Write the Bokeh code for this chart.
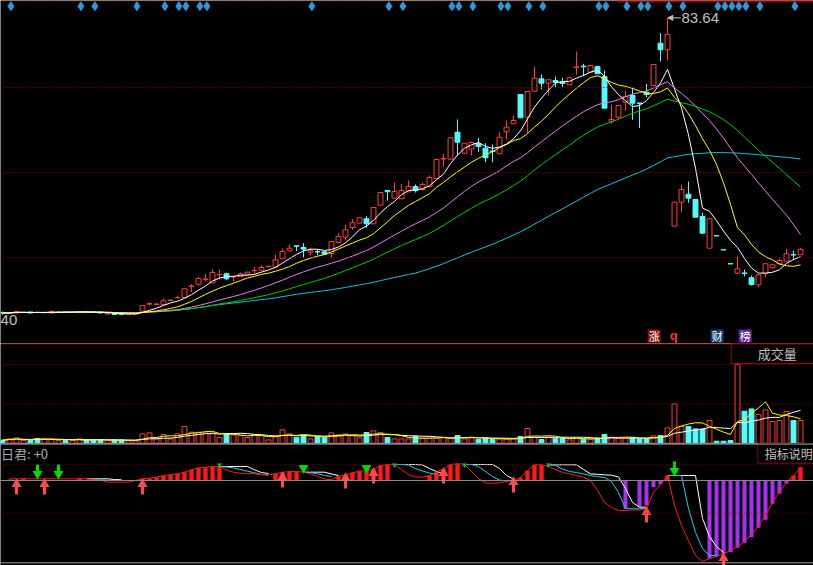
import numpy as np
import pandas as pd
from bokeh.plotting import figure
from bokeh.layouts import column
from bokeh.models import Span, Range1d, Arrow, NormalHead
from bokeh.core.properties import value
from bokeh.embed import file_html
from bokeh.resources import INLINE

# ---------------- data ----------------
opens = [9.97, 9.85, 9.85, 9.97, 10.10, 10.02, 9.90, 9.85, 9.97, 10.10,
         9.97, 9.92, 10.22, 10.22, 10.10, 9.60, 9.72, 9.65, 9.50, 9.60,
         10.30, 12.10, 12.00, 11.97, 13.00, 13.65, 13.72, 16.50, 17.05, 18.25,
         17.39, 19.42, 19.65, 18.85, 18.97, 19.55, 20.42, 20.55, 21.42, 21.30,
         23.40, 25.40, 26.65, 26.22, 25.05, 25.20, 25.15, 24.72, 27.47, 28.80,
         31.22, 32.30, 33.40, 32.15, 36.80, 40.47, 38.55, 38.40, 40.15, 41.47,
         40.72, 41.47, 43.47, 48.35, 48.30, 55.05, 49.80, 50.80, 52.15, 51.05,
         50.35, 49.65, 55.15, 57.15, 64.47, 58.80, 65.30, 68.40, 67.30, 67.97,
         67.60, 66.90, 71.25, 71.55, 70.05, 71.47, 68.97, 57.80, 58.80, 62.55,
         64.22, 62.35, 65.05, 66.72, 77.30, 75.65, 31.55, 37.55, 39.55, 38.22,
         33.97, 26.05, 29.17, 25.67, 22.17, 19.80, 19.85, 18.65, 16.90, 19.65,
         21.15, 22.15, 22.80, 24.45, 24.40]
highs = [10.22, 9.97, 10.35, 10.10, 10.15, 10.10, 10.02, 10.47, 10.35, 10.15,
         10.35, 10.25, 10.40, 10.35, 10.15, 9.80, 9.80, 9.70, 9.60, 9.80,
         11.80, 12.47, 12.30, 13.47, 13.20, 14.22, 15.95, 17.05, 18.97, 19.65,
         20.72, 20.64, 19.90, 18.97, 19.97, 20.15, 21.40, 21.80, 21.80, 24.47,
         25.97, 26.97, 26.80, 27.30, 26.22, 25.72, 25.20, 27.75, 29.80, 31.90,
         33.30, 33.70, 34.05, 36.25, 40.00, 40.55, 42.47, 42.15, 42.97, 41.97,
         42.47, 44.22, 48.47, 49.65, 53.70, 58.22, 52.35, 52.72, 53.65, 52.30,
         51.97, 55.05, 57.97, 59.22, 64.50, 65.25, 71.47, 69.47, 68.20, 68.97,
         68.65, 68.97, 75.22, 72.15, 71.75, 71.50, 70.47, 61.97, 61.75, 65.47,
         66.15, 62.40, 67.15, 72.00, 79.80, 83.64, 37.60, 41.90, 42.72, 38.25,
         34.90, 33.45, 29.20, 25.70, 22.20, 23.97, 20.65, 19.22, 19.45, 22.20,
         21.95, 23.47, 25.90, 25.47, 26.15]
lows = [9.40, 9.72, 9.72, 9.85, 9.80, 9.85, 9.80, 9.80, 9.90, 9.90,
        9.90, 9.85, 9.95, 9.90, 9.80, 9.55, 9.45, 9.42, 9.42, 9.55,
        10.30, 11.72, 11.90, 11.97, 12.90, 13.50, 13.70, 15.05, 16.64, 17.72,
        17.39, 18.22, 18.05, 17.72, 18.97, 19.50, 19.65, 20.50, 21.30, 21.30,
        23.40, 25.35, 25.30, 23.65, 24.30, 24.30, 24.50, 23.55, 27.45, 27.97,
        30.65, 32.25, 31.15, 32.10, 36.75, 37.97, 38.50, 38.35, 40.10, 39.97,
        40.47, 41.22, 43.40, 46.47, 48.25, 49.22, 49.75, 49.22, 50.05, 47.55,
        47.55, 49.60, 53.15, 57.10, 58.60, 54.80, 65.25, 65.80, 64.22, 66.30,
        66.30, 66.85, 69.40, 69.05, 70.00, 69.60, 61.00, 57.15, 58.40, 60.47,
        58.15, 56.10, 63.80, 66.70, 72.72, 72.97, 31.50, 35.05, 37.40, 33.75,
        29.75, 26.00, 29.10, 25.60, 22.10, 19.65, 18.97, 16.72, 16.30, 18.80,
        21.10, 22.10, 22.75, 23.15, 24.35]
closes = [9.85, 9.90, 10.22, 10.02, 9.85, 9.97, 9.95, 10.22, 10.10, 10.05,
          10.10, 10.22, 9.97, 9.97, 9.85, 9.72, 9.47, 9.45, 9.52, 9.72,
          11.72, 12.17, 12.07, 12.89, 13.07, 13.72, 15.90, 16.58, 18.47, 18.32,
          19.97, 19.50, 18.40, 18.92, 19.65, 20.05, 20.50, 21.22, 21.50, 23.15,
          25.22, 26.05, 26.55, 25.80, 25.40, 25.10, 24.55, 27.72, 28.97, 30.65,
          32.40, 33.65, 32.15, 36.22, 39.97, 40.15, 40.22, 40.47, 41.47, 40.47,
          41.97, 43.72, 48.22, 48.45, 53.65, 52.55, 52.30, 52.47, 51.47, 48.65,
          50.22, 53.80, 56.30, 57.97, 58.65, 65.22, 68.55, 67.30, 68.15, 67.47,
          67.22, 68.65, 71.35, 71.40, 71.72, 69.65, 61.05, 58.22, 61.72, 63.97,
          62.30, 62.25, 64.47, 71.97, 75.65, 79.47, 37.55, 40.72, 38.55, 33.80,
          29.80, 33.40, 29.12, 25.62, 22.12, 20.90, 19.72, 16.97, 19.40, 22.15,
          21.90, 22.97, 24.65, 24.35, 25.72]
volumes = [3.0, 4.3, 5.3, 2.7, 3.3, 4.7, 4.3, 4.3, 2.7, 2.7,
           2.7, 4.3, 3.3, 3.3, 3.3, 2.7, 3.3, 3.3, 2.3, 2.3,
           9.3, 10.3, 4.3, 8.7, 4.3, 9.3, 16.7, 11.0, 11.0, 10.3,
           10.3, 5.7, 9.3, 8.3, 7.7, 5.7, 8.3, 8.0, 3.3, 6.7,
           13.3, 9.3, 6.0, 8.0, 4.3, 6.3, 6.0, 10.3, 8.3, 9.3,
           8.0, 5.3, 10.7, 12.3, 10.7, 5.7, 4.3, 4.3, 4.3, 7.0,
           5.0, 5.0, 5.0, 6.0, 5.0, 7.7, 4.3, 6.0, 3.7, 5.0,
           3.7, 4.3, 4.3, 4.3, 6.7, 14.7, 6.0, 3.7, 6.0, 5.0,
           5.3, 3.3, 5.0, 4.0, 4.0, 5.3, 8.7, 6.0, 5.0, 5.0,
           5.3, 4.3, 4.3, 7.3, 7.7, 15.3, 39.3, 16.7, 16.7, 14.3,
           14.3, 22.7, 2.0, 2.0, 2.7, 78.7, 32.0, 34.3, 28.7, 33.3,
           21.7, 22.7, 31.7, 22.7, 22.7]

ind_bar = [0, 1, 0, 2, 0, 0, 0, 0, 0, 0,
           0, 2.3, 0, 0, 0, 0, 0, 0, 0, 0,
           1.7, 2.3, 3.3, 5, 5.7, 6.7, 8.3, 10.7, 12.7, 13.3,
           14, 14.3, 0, 0, 0, 0, 0, 0, 0, 7,
           8, 9, 9, 0, 0, 0, 0, 0, 4.3, 5.5,
           7.7, 9.3, 10, 11, 15, 16, 0, 0, 0, 0,
           0, 5, 8.3, 11.7, 16, 16.7, 0, 0, 0, 0,
           0, 0, 0, 0, 2.7, 10, 15.7, 15.7, 0, 0,
           0, 0, 0, 0, 0, 0, 0, 0, 0, -28.3,
           0, -26.7, -25, -6.7, -4, 5, 0, 0, 0, 0,
           0, -78.3, -76, -73.3, -71.7, -67.3, -62.7, -56.7, -47.3, -39.3,
           -23.3, -13.3, -3.3, 5, 13.3]
ind_white = [None, None, None, None, None, None, None, None, None, None,
             None, None, 1.7, 1.7, 1.7, 1.7, 1.0, 0.7, None, None,
             None, None, None, None, None, None, None, None, None, None,
             None, 14, 14, 14, 14, 14, 10.7, 8, 7, None,
             None, None, None, 8.3, 8.3, 8.3, 8.3, 6.5, 5, None,
             None, None, None, None, None, None, 16, 16, 16, 16,
             15.5, 12, 9, 6.7, None, None, 16, 16, 16, 16,
             16, 12, 5, 1.5, None, None, None, None, 15.7, 15.7,
             15.7, 15.7, 15.7, 11, 6.7, 6.2, 5.7, 5.3, 3.5, -8,
             -22, -26.7, -26.7, None, None, 5, 5, 5, 5, 5,
             -38, -56, -66, -72, None, None, None, None, None, None,
             None, None, None, None, None]
ind_cyan = [None, None, None, None, None, None, None, None, None, None,
            None, None, None, 1.0, 0.5, 0.3, None, None, None, None,
            None, None, None, None, None, None, None, None, None, None,
            None, 14, 13.5, 12.7, 11, 9.3, 7.7, 6, 5.3, None,
            None, None, None, 8.3, 8, 6.7, 5, 4, None, None,
            None, None, None, None, None, None, 16, 16, 15.5, 12,
            9.5, 7.5, 6, None, None, None, 16, 16, 14, 9,
            4, 0.5, -0.5, None, None, None, None, None, 15.7, 15,
            11.5, 9, 8, 6.5, 5, 4, 3, -1, -12, -28,
            -28.3, -28.3, -28, None, None, 5, 5, 5, -28, -52,
            -68, -75, -75, None, None, None, None, None, None, None,
            None, None, None, None, None]
ind_red = [None, 1.7, 1.7, 1.7, 1.7, 1.7, 1.7, 1.7, 1.7, 1.7,
           1.7, 1.7, 1.7, 1.0, 0.3, -1.7, -1.7, -1.7, -1.7, 0,
           1.7, 2.3, 3.3, 5, 5.7, 6.7, 8.3, 10.7, 12.7, 13.3,
           14, 14, 10.7, 8.3, 7.3, 7, 6.7, 6, 5.7, 7,
           8, 9, 9, 8.3, 6.7, 4, 1.5, 0.7, 4.3, 5.5,
           7.7, 9.3, 10, 11, 15, 16, 16, 11, 6, 3.5,
           3.3, 5, 8.3, 11.7, 16, 16.7, 16, 9, 2, -2.5,
           -2.7, -2.5, -1, 0.5, 2.7, 10, 15.7, 15.7, 14, 11,
           8, 6.7, 5, 3.5, 0, -10, -22, -27, -30, -30,
           -29.5, -29.5, -28, -12, -4, 5, -25, -45, -60, -75,
           -81, -78, -76, -73.5, -70, -66, -61, -54, -45, -35,
           -22, -11, -2, 5, 13]

buy_idx = [2, 6, 20, 40, 49, 53, 63, 73, 92, 103]
buy_tip = [1, 1, 1, 8, 7, 12, 12, 3, -27, -73]
sell_idx = [5, 8, 96]
sell_tip = [2, 2, 5]
tri_idx = [43, 52]
tiny_idx = [31, 56, 66, 78]
diamond_idx = [1, 11, 13, 19, 23, 25, 26, 28, 29, 44, 55, 57, 64, 65, 67, 71, 72,
               75, 77, 85, 86, 89, 91, 92, 95, 97, 102, 103, 104, 105, 106, 108, 113]
grid_prices = [66.22, 44.97, 23.72]

# ---------------- styling ----------------
RED = "#ff3c3c"
CYAN = "#54fcfc"
PURPLE = "#a431f0"
DKRED = "#8b0000"
GREY = "#c0c0c0"
W = 813

n = len(closes)
idx = np.arange(n)
o = np.array(opens); h = np.array(highs); l = np.array(lows); c = np.array(closes)
v = np.array(volumes)
up = c >= o

xr = Range1d(-0.286, 115.857)


def make_fig(hgt, y0, y1):
    f = figure(width=W, height=hgt, x_range=xr, y_range=Range1d(y0, y1),
               output_backend="svg", toolbar_location=None,
               x_axis_location=None, y_axis_location=None, min_border=0,
               background_fill_color="black", border_fill_color="black",
               outline_line_color=None)
    f.grid.visible = False
    return f


# ---------------- main price panel ----------------
p1 = make_fig(343, 2.22, 87.97)
for gp in grid_prices:
    p1.add_layout(Span(location=gp, dimension="width", line_color=DKRED,
                       line_dash="1 2", line_width=1))
p1.add_layout(Span(location=87.6, dimension="width", line_color=DKRED,
                   line_dash="1 2", line_width=1))
p1.segment(x0=87.9, y0=87.72, x1=116, y1=87.72, line_color="#900000", line_width=2)

wick_col = [RED if u else CYAN for u in up]
p1.segment(x0=idx, y0=l, x1=idx, y1=h, line_color=wick_col, line_width=1)
p1.vbar(x=idx[up], width=0.7, top=c[up], bottom=o[up], fill_color="black", line_color=RED)
p1.vbar(x=idx[~up], width=0.7, top=o[~up], bottom=c[~up], fill_color=CYAN, line_color=CYAN)

cs = pd.Series(c)
for win, col in [(60, "#18c0e0"), (30, "#00cc00"), (20, "#e67ee6"), (10, "#ffff00"), (5, "#ffffff")]:
    p1.line(idx, cs.rolling(win, min_periods=1).mean().values, line_color=col, line_width=1)

p1.scatter(x=np.array(diamond_idx) + 0.2, y=[86.55] * len(diamond_idx), marker="diamond",
           size=9, fill_color="#2b9ad6", line_color="#2b9ad6")

hi_i = int(np.argmax(h))
p1.add_layout(Arrow(end=NormalHead(size=5, fill_color=GREY, line_color=GREY),
                    x_start=hi_i + 1.9, y_start=h[hi_i], x_end=hi_i + 0.05, y_end=h[hi_i],
                    line_color=GREY, line_width=1))
p1.text(x=[hi_i + 2.0], y=[h[hi_i]], text=["%.2f" % h[hi_i]], text_color=GREY,
        text_font=value("Liberation Sans Narrow, Liberation Sans"), text_font_size="15px",
        text_baseline="middle", text_align="left")
# only the tail of the low-price label is visible at the left edge
p1.text(x=[-0.27], y=[8.2], text=["40"], text_color=GREY,
        text_font=value("Liberation Sans Narrow, Liberation Sans"), text_font_size="15px",
        text_baseline="middle", text_align="left")

badge_x = [93.1, 102.1, 106.1]
badge_t = ["涨", "财", "榜"]
badge_c = ["#8a1010", "#153a6e", "#5a259a"]
p1.rect(x=badge_x, y=[4.1] * 3, width=1.86, height=3.25, fill_color=badge_c, line_color=None)
p1.text(x=badge_x, y=[4.1] * 3, text=badge_t, text_color="white",
        text_font=value("Noto Sans CJK SC"), text_font_size="11px",
        text_align="center", text_baseline="middle")
p1.text(x=[95.9], y=[4.3], text=["q"], text_color="#ff3030", text_font_style="bold",
        text_font=value("Liberation Sans"), text_font_size="13px",
        text_align="center", text_baseline="middle")

# ---------------- volume panel ----------------
p2 = make_fig(100, -0.3, 99.7)
for gv in [78.7, 39.4]:
    p2.add_layout(Span(location=gv, dimension="width", line_color=DKRED,
                       line_dash="1 2", line_width=1))
p2.add_layout(Span(location=99.3, dimension="width", line_color="#a00000", line_width=1))
p2.vbar(x=idx[up], width=0.7, top=v[up], bottom=0, fill_color="black", line_color=RED)
p2.vbar(x=idx[~up], width=0.7, top=v[~up], bottom=0, fill_color=CYAN, line_color=CYAN)
vs = pd.Series(v)
p2.line(idx, vs.rolling(10, min_periods=1).mean().values, line_color="white", line_width=1)
p2.line(idx, vs.rolling(5, min_periods=1).mean().values, line_color="#ffff00", line_width=1)
p2.quad(left=[104.1], right=[117], bottom=[79.7], top=[100], fill_color="black",
        line_color="#a00000")
p2.text(x=[107.9], y=[89.7], text=["成交量"], text_color=GREY,
        text_font=value("Noto Sans CJK SC"), text_font_size="13px",
        text_baseline="middle", text_align="left")

# ---------------- indicator panel ----------------
p3 = make_fig(122, -85, 37)
p3.add_layout(Span(location=36.4, dimension="width", line_color="#a0a0a0", line_width=1))
for gv in [15.7, -32.7]:
    p3.add_layout(Span(location=gv, dimension="width", line_color=DKRED,
                       line_dash="1 2", line_width=1))
p3.add_layout(Span(location=0, dimension="width", line_color="#8a8a8a", line_width=1))
p3.add_layout(Span(location=-82.3, dimension="width", line_color="#a0a0a0", line_width=1))

b = np.array(ind_bar, dtype=float)
pos = b > 0
neg = b < 0
p3.vbar(x=idx[pos], width=0.62, top=b[pos], bottom=0, fill_color="#ff1a1a", line_color=None)
p3.vbar(x=idx[neg], width=0.58, top=0, bottom=b[neg], fill_color=PURPLE, line_color=None)


def arr(lst):
    return np.array([np.nan if t is None else t for t in lst], dtype=float)


p3.line(idx, arr(ind_white), line_color="white", line_width=1)
p3.line(idx, arr(ind_cyan), line_color="#20d0f0", line_width=1)
p3.line(idx, arr(ind_red), line_color="#ff1a1a", line_width=1)

bi = np.array(buy_idx, dtype=float); bt = np.array(buy_tip, dtype=float)
p3.quad(left=bi - 0.22, right=bi + 0.22, top=bt - 6, bottom=bt - 15,
        fill_color="#ff4a4a", line_color=None)
p3.scatter(x=bi, y=bt - 4.5, marker="triangle", size=10, fill_color="#ff4a4a", line_color=None)

si = np.array(sell_idx, dtype=float); st = np.array(sell_tip, dtype=float)
p3.quad(left=si - 0.22, right=si + 0.22, bottom=st + 6, top=st + 14,
        fill_color="#00dc00", line_color=None)
p3.scatter(x=si, y=st + 4.5, marker="inverted_triangle", size=10, fill_color="#00dc00", line_color=None)
p3.scatter(x=tri_idx, y=[12.5] * len(tri_idx), marker="inverted_triangle", size=10,
           fill_color="#00dc00", line_color=None)
p3.scatter(x=tiny_idx, y=[15.5] * len(tiny_idx), marker="inverted_triangle", size=5,
           fill_color="#00dc00", line_color=None)

p3.text(x=[-0.2], y=[27], text=["日君: +0"], text_color="#a8a8a8",
        text_font=value("Noto Sans CJK SC"), text_font_size="13px",
        text_baseline="middle", text_align="left")
p3.quad(left=[107.9], right=[117], bottom=[17.3], top=[37.5], fill_color="black",
        line_color="#7a1010")
p3.text(x=[108.9], y=[27], text=["指标说明"], text_color=GREY,
        text_font=value("Noto Sans CJK SC"), text_font_size="12px",
        text_baseline="middle", text_align="left")

layout = column(p1, p2, p3, spacing=0)
open("out.html", "w").write(file_html(layout, INLINE))
